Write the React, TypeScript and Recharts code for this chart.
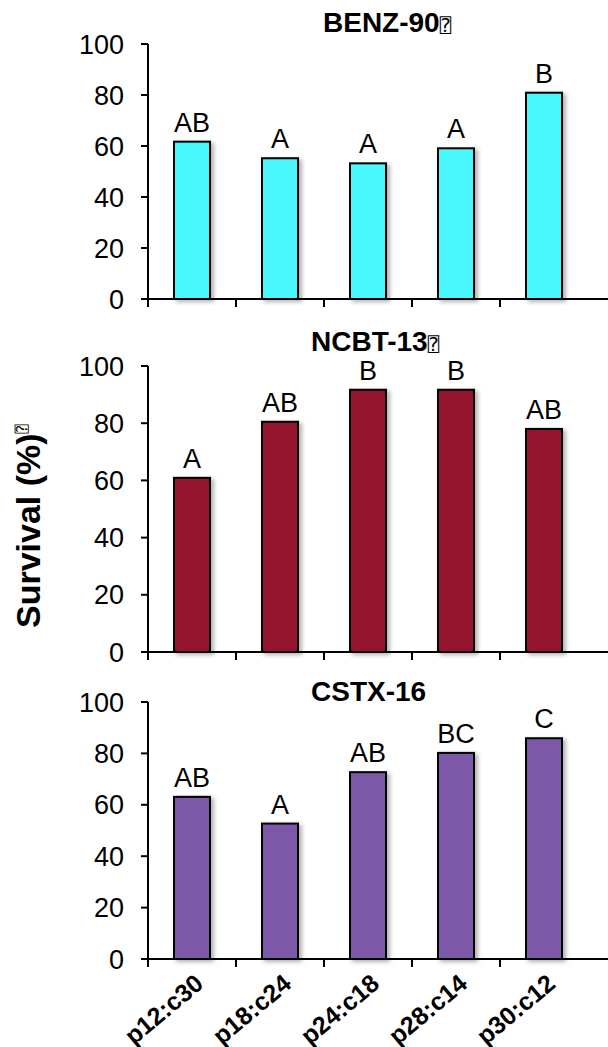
import React from 'react';
import { BarChart, Bar, XAxis, YAxis, LabelList } from 'recharts';

const categories = ['p12:c30', 'p18:c24', 'p24:c18', 'p28:c14', 'p30:c12'];
const yTicks = [0, 20, 40, 60, 80, 100];

const benzValues = [61.7, 55.2, 53.2, 59.1, 80.9];
const benzLetters = ['AB', 'A', 'A', 'A', 'B'];
const ncbtValues = [60.9, 80.5, 91.7, 91.7, 78.0];
const ncbtLetters = ['A', 'AB', 'B', 'B', 'AB'];
const cstxValues = [63.1, 52.7, 72.7, 80.2, 85.9];
const cstxLetters = ['AB', 'A', 'AB', 'BC', 'C'];

const FONT = 'Arial, "Liberation Sans", Helvetica, sans-serif';
const W = 608;
const H = 1047;
const AXIS_X = 148;
const PAD_RIGHT = 20;
const BAND = (W - AXIS_X - PAD_RIGHT) / categories.length;
const TOP_SPACE = 40;

const ShadowRect = (p: any) => (
  <rect
    x={p.x}
    y={p.y}
    width={p.width}
    height={p.height}
    fill={p.fill}
    stroke='#000'
    strokeWidth={2}
    style={{ filter: 'drop-shadow(3px 2px 2px rgba(0,0,0,0.3))' }}
  />
);

interface PanelProps {
  values: number[];
  letters: string[];
  color: string;
  plotTop: number;
  plotHeight: number;
  bottomSpace: number;
  showLabels: boolean;
}

function Panel({ values, letters, color, plotTop, plotHeight, bottomSpace, showLabels }: PanelProps) {
  const data = categories.map((name, i) => ({ name, value: values[i], letter: letters[i] }));
  const axisY = TOP_SPACE + plotHeight;

  const renderTick = (props: any) => {
    const { x, payload } = props;
    const edge = x - BAND / 2;
    const lx = x + 13;
    const ly = axisY + 27;
    return (
      <g>
        <line x1={edge} x2={edge} y1={axisY} y2={axisY + 8} stroke='#000' strokeWidth={2} />
        {showLabels && (
          <text
            x={lx}
            y={ly}
            transform={`rotate(-40 ${lx} ${ly})`}
            textAnchor='end'
            fontFamily={FONT}
            fontWeight='bold'
            fontSize={25}
            fill='#000'
          >
            {payload.value}
          </text>
        )}
      </g>
    );
  };

  return (
    <div style={{ position: 'absolute', left: 0, top: plotTop - TOP_SPACE }}>
      <BarChart
        width={W}
        height={TOP_SPACE + plotHeight + bottomSpace}
        data={data}
        margin={{ top: TOP_SPACE, right: 0, bottom: 0, left: 0 }}
        style={{ overflow: 'visible' }}
      >
        <XAxis
          dataKey='name'
          height={bottomSpace}
          interval={0}
          tickLine={false}
          tick={renderTick}
          padding={{ left: 0, right: PAD_RIGHT }}
          axisLine={{ stroke: '#000', strokeWidth: 2 }}
        />
        <YAxis
          width={AXIS_X}
          domain={[0, 100]}
          ticks={yTicks}
          interval={0}
          tickSize={7}
          tickMargin={17}
          axisLine={{ stroke: '#000', strokeWidth: 2 }}
          tickLine={{ stroke: '#000', strokeWidth: 2 }}
          tick={{ fill: '#000', fontSize: 27, fontFamily: FONT }}
        />
        <Bar dataKey='value' fill={color} barSize={36} shape={ShadowRect} isAnimationActive={false}>
          <LabelList
            dataKey='letter'
            position='top'
            offset={10}
            fill='#000'
            fontSize={27}
            fontFamily={FONT}
          />
        </Bar>
      </BarChart>
    </div>
  );
}

const titleStyle = { fontFamily: FONT, fontWeight: 'bold' as const, fontSize: 28, fill: '#000' };
const tofuStyle = { fontFamily: '"DejaVu Sans Mono", "DejaVu Sans"', fontWeight: 'normal' as const, fontSize: 19 };

export default function App() {
  return (
    <div style={{ position: 'absolute', left: 0, top: 0, width: W, height: H, background: '#fff', overflow: 'hidden' }}>
      <Panel values={benzValues} letters={benzLetters} color='#48F8FC' plotTop={44} plotHeight={255} bottomSpace={20} showLabels={false} />
      <Panel values={ncbtValues} letters={ncbtLetters} color='#93142C' plotTop={366} plotHeight={286} bottomSpace={20} showLabels={false} />
      <Panel values={cstxValues} letters={cstxLetters} color='#7D57A8' plotTop={702} plotHeight={257} bottomSpace={88} showLabels={true} />
      <svg width={W} height={H} style={{ position: 'absolute', left: 0, top: 0, pointerEvents: 'none' }}>
        <text x={323} y={32} {...titleStyle}>
          BENZ-90<tspan {...tofuStyle}>⍰</tspan>
        </text>
        <text x={311} y={351} {...titleStyle}>
          NCBT-13<tspan {...tofuStyle}>⍰</tspan>
        </text>
        <text x={311} y={701} {...titleStyle}>
          CSTX-16
        </text>
        <text x={40} y={628} transform='rotate(-90 40 628)' {...titleStyle} fontSize={34}>
          Survival (%)<tspan {...tofuStyle} fontSize={15} dy={-13}>⍰</tspan>
        </text>
      </svg>
    </div>
  );
}
